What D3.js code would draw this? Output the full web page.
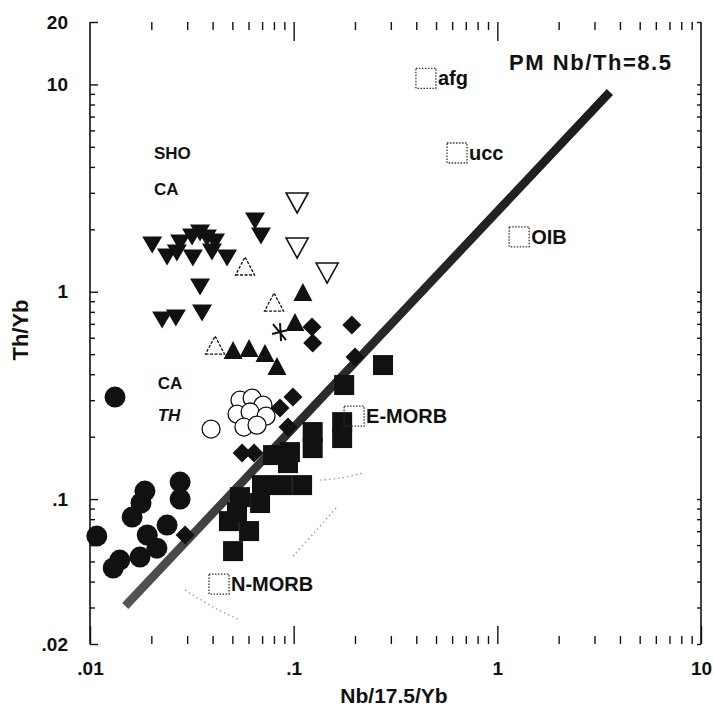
<!DOCTYPE html>
<html><head><meta charset="utf-8">
<script src="https://cdn.jsdelivr.net/npm/d3@7"></script>
<style>
body{margin:0;background:#fff}
svg{display:block}
text{font-family:"Liberation Sans",Arial,sans-serif;font-weight:bold;fill:#111}
</style>
</head><body>
<svg id="c" width="714" height="711"></svg>
<script>
// ---------- data ----------
const xTickValues=[0.01,0.1,1,10];
const xTickLabels=[".01",".1","1","10"];
const yTickValues=[0.02,0.1,1,10,20];
const yTickLabels=[".02",".1","1","10","20"];
const xTitle="Nb/17.5/Yb";
const yTitle="Th/Yb";
const pmLabel="PM Nb/Th=8.5";
const pmLine=[[0.0149,0.0305],[3.57,9.19]];

const refNames=["afg","ucc","OIB","E-MORB","N-MORB"];
const refX=[0.446,0.634,1.28,0.198,0.043];
const refY=[10.7,4.67,1.84,0.251,0.0389];

const fieldLabels=["SHO","CA","CA","TH"];
const fieldX=[0.0206,0.0206,0.0215,0.0215];
const fieldY=[4.37,2.93,0.339,0.238];

const arrayCurve1=[[0.0293,0.0364],[0.0411,0.0298],[0.0545,0.0261]];
const arrayCurve2=[[0.0992,0.0531],[0.127,0.0693],[0.163,0.0915]];
const arrayCurve3=[[0.135,0.1235],[0.169,0.1263],[0.219,0.1335]];

const invTriFilled=[[0.0202,1.68],[0.0239,1.47],[0.0267,1.537],[0.0277,1.718],[0.0317,1.836],[0.0347,1.92],[0.032,1.454],[0.0375,1.816],[0.0411,1.737],[0.0397,1.554],[0.0471,1.454],[0.0646,2.193],[0.0691,1.857],[0.0347,1.054],[0.0355,0.789],[0.0226,0.73],[0.0264,0.747]];
const invTriOpen=[[0.104,2.68],[0.104,1.625],[0.146,1.231]];
const triOpen=[[0.0577,1.331],[0.0801,0.892],[0.0411,0.553]];
const triFilled=[[0.111,0.997],[0.1015,0.714],[0.0504,0.523],[0.0604,0.535],[0.0723,0.506],[0.0828,0.438]];
const diamonds=[[0.123,0.676],[0.124,0.566],[0.193,0.691],[0.2,0.484],[0.0992,0.3105],[0.0857,0.2748],[0.0938,0.2226],[0.0558,0.1667],[0.0639,0.1667],[0.0293,0.0671]];
const squares=[[0.2745,0.443],[0.177,0.3548],[0.173,0.2351],[0.173,0.1969],[0.124,0.2105],[0.124,0.1762],[0.0792,0.163],[0.0959,0.1685],[0.0938,0.1491],[0.0876,0.1168],[0.110,0.1168],[0.0699,0.1168],[0.0684,0.0957],[0.0545,0.1022],[0.0527,0.0866],[0.0481,0.0783],[0.0604,0.0701],[0.0504,0.0561]];
const circlesFilled=[[0.01327,0.3105],[0.0108,0.0663],[0.0186,0.1093],[0.0178,0.0957],[0.0161,0.0819],[0.0239,0.0749],[0.0191,0.0671],[0.0213,0.058],[0.014,0.0508],[0.0176,0.0525],[0.013,0.0465],[0.0277,0.1208],[0.0277,0.1]];
const circlesOpen=[[0.0393,0.2177],[0.0545,0.3003],[0.0625,0.307],[0.0707,0.284],[0.0527,0.257],[0.0611,0.263],[0.0732,0.2514],[0.057,0.2226],[0.0661,0.2275]];
const crossMarks=[[0.0857,0.639]];

// ---------- chart ----------
const svg=d3.select("#c");
const x=d3.scaleLog().domain([0.01,10]).range([90,701]);
const y=d3.scaleLog().domain([0.02,20]).range([644,22]);
const ink="#111";
const isMajorX=v=>xTickValues.some(t=>Math.abs(Math.log10(t)-Math.log10(v))<1e-6);
const isMajorY=v=>[0.1,1,10].some(t=>Math.abs(Math.log10(t)-Math.log10(v))<1e-6);

function styleAxis(g){
  g.select(".domain").remove();
  g.selectAll("line").attr("stroke",ink).attr("stroke-width",1.4);
  g.selectAll("text").attr("font-family",'"Liberation Sans",Arial,sans-serif')
    .attr("font-weight","bold").attr("font-size",19).attr("fill",ink);
}
// bottom minor / major
svg.append("g").attr("transform","translate(0,644)")
  .call(d3.axisBottom(x).tickValues(x.ticks().filter(v=>!isMajorX(v))).tickSizeInner(-8).tickSizeOuter(0).tickFormat(""))
  .call(styleAxis);
svg.append("g").attr("transform","translate(0,644)")
  .call(d3.axisBottom(x).tickValues(xTickValues).tickSizeInner(-18).tickSizeOuter(0).tickPadding(18).tickFormat((d,i)=>xTickLabels[i]))
  .call(styleAxis);
// top minor / major
svg.append("g").attr("transform","translate(0,22)")
  .call(d3.axisTop(x).tickValues(x.ticks().filter(v=>!isMajorX(v))).tickSizeInner(-8).tickSizeOuter(0).tickFormat(""))
  .call(styleAxis);
svg.append("g").attr("transform","translate(0,22)")
  .call(d3.axisTop(x).tickValues(xTickValues.slice(1,3)).tickSizeInner(-19).tickSizeOuter(0).tickFormat(""))
  .call(styleAxis);
// left axis
const yMinor=y.ticks().filter(v=>!isMajorY(v)&&v>0.02&&v<20);
svg.append("g").attr("transform","translate(90,0)")
  .call(d3.axisLeft(y).tickValues(yMinor).tickSizeInner(-5).tickSizeOuter(0).tickFormat(""))
  .call(styleAxis);
svg.append("g").attr("transform","translate(90,0)")
  .call(d3.axisLeft(y).tickValues(yTickValues).tickSizeInner(-8).tickSizeOuter(0).tickPadding(22).tickFormat((d,i)=>yTickLabels[i]))
  .call(styleAxis);
// right axis ticks
svg.append("g").attr("transform","translate(701,0)")
  .call(d3.axisRight(y).tickValues(y.ticks()).tickSizeInner(-4).tickSizeOuter(0).tickFormat(""))
  .call(styleAxis);
// vertical frame lines
svg.append("line").attr("x1",x(0.01)).attr("x2",x(0.01)).attr("y1",y(20)).attr("y2",y(0.02)).attr("stroke",ink).attr("stroke-width",1.6);
svg.append("line").attr("x1",x(10)).attr("x2",x(10)).attr("y1",y(20)).attr("y2",y(0.02)).attr("stroke",ink).attr("stroke-width",1.6);

// titles
svg.append("text").attr("x",394).attr("y",703).attr("text-anchor","middle").attr("font-size",21).text(xTitle);
svg.append("text").attr("transform","translate(28,330) rotate(-90)").attr("text-anchor","middle").attr("font-size",22).text(yTitle);

// faint dotted array curves
const lineGen=d3.line().x(d=>x(d[0])).y(d=>y(d[1])).curve(d3.curveCatmullRom);
[arrayCurve1,arrayCurve2,arrayCurve3].forEach(c=>{
  svg.append("path").attr("d",lineGen(c)).attr("fill","none").attr("stroke","#9a9a9a")
    .attr("stroke-width",1.3).attr("stroke-dasharray","1.5,3");
});

// PM line
const defs=svg.append("defs");
const grad=defs.append("linearGradient").attr("id","pmg").attr("gradientUnits","userSpaceOnUse")
  .attr("x1",x(pmLine[0][0])).attr("y1",y(pmLine[0][1])).attr("x2",x(pmLine[1][0])).attr("y2",y(pmLine[1][1]));
grad.append("stop").attr("offset","0").attr("stop-color","#555");
grad.append("stop").attr("offset","0.35").attr("stop-color","#2c2c2c");
grad.append("stop").attr("offset","1").attr("stop-color","#1c1c1c");
svg.append("path").attr("d",d3.line().x(d=>x(d[0])).y(d=>y(d[1]))(pmLine))
  .attr("stroke","url(#pmg)").attr("stroke-width",8.5).attr("fill","none");

// symbol paths
const triDown=(w,h)=>`M${-w/2},${-h/2}L${w/2},${-h/2}L0,${h/2}Z`;
const triUp=(w,h)=>`M${-w/2},${h/2}L${w/2},${h/2}L0,${-h/2}Z`;
const diam=r=>`M0,${-r}L${r},0L0,${r}L${-r},0Z`;

function plot(data,path,fill,stroke,sw,dash){
  svg.append("g").selectAll("path").data(data).join("path")
    .attr("transform",d=>`translate(${x(d[0])},${y(d[1])})`)
    .attr("d",path).attr("fill",fill).attr("stroke",stroke||"none")
    .attr("stroke-width",sw||0).attr("stroke-dasharray",dash||null);
}
plot(squares,"M-10,-10H10V10H-10Z",ink);
plot(diamonds,diam(9.5),ink);
plot(circlesFilled,d3.symbol(d3.symbolCircle,Math.PI*10.5*10.5)(),ink);
plot(circlesOpen,d3.symbol(d3.symbolCircle,Math.PI*9*9)(),"#fff",ink,1.3);
plot(triFilled,triUp(19,18),ink);
plot(triOpen,triUp(19,18),"none",ink,1.3,"3,1.5");
plot(invTriFilled,triDown(20,17),ink);
plot(invTriOpen,triDown(22,20),"none",ink,1.6);
plot(crossMarks,"M-7,-8L6,8M-8,2L8,-2M0,-9L1,9",null,ink,2);

// reference boxes
const refs=refNames.map((n,i)=>({n,x:refX[i],y:refY[i]}));
const rg=svg.append("g").selectAll("g").data(refs).join("g")
  .attr("transform",d=>`translate(${x(d.x)},${y(d.y)})`);
rg.append("rect").attr("x",-10).attr("y",-10).attr("width",20).attr("height",20)
  .attr("fill","none").attr("stroke","#333").attr("stroke-width",1.3).attr("stroke-dasharray","1.5,1.5");
rg.append("text").attr("x",12).attr("y",7).attr("font-size",20).text(d=>d.n);

// labels
svg.append("text").attr("x",509).attr("y",70).attr("font-size",22)
  .attr("textLength",162).attr("lengthAdjust","spacing").text(pmLabel);
fieldLabels.forEach((t,i)=>{
  svg.append("text").attr("x",x(fieldX[i])).attr("y",y(fieldY[i])).attr("font-size",17)
    .attr("font-style",t==="TH"?"italic":null).text(t);
});
</script>
</body></html>
